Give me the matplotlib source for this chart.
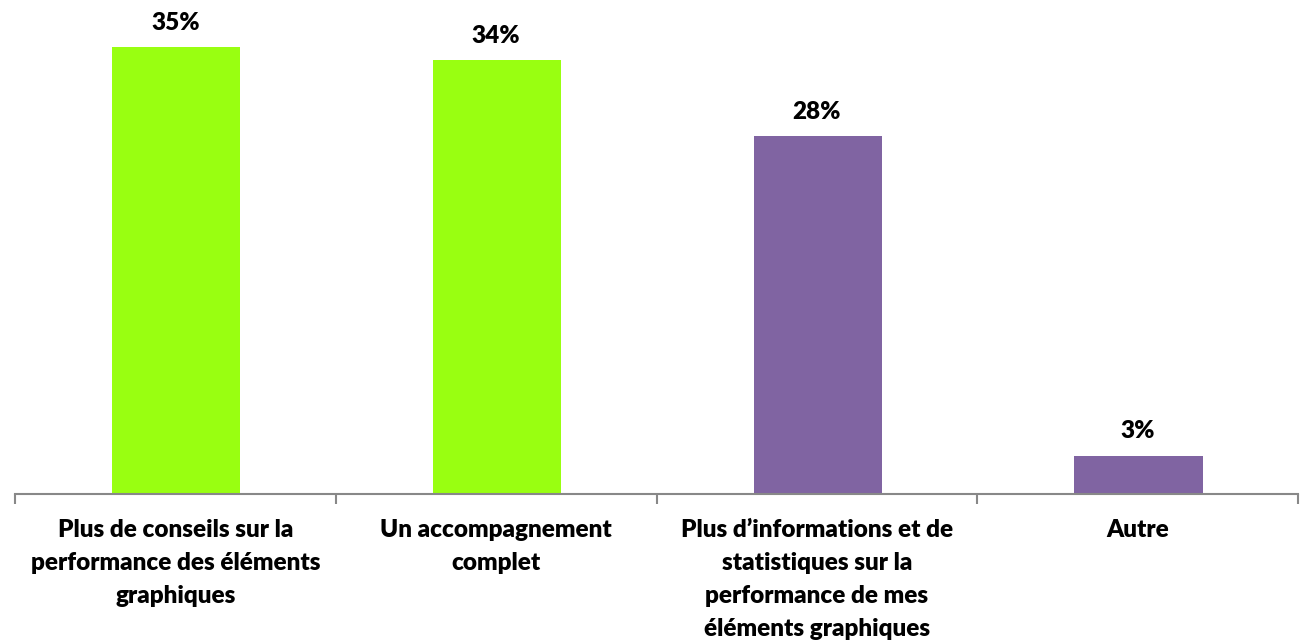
import matplotlib.pyplot as plt

categories = [
    "Plus de conseils sur la\nperformance des éléments\ngraphiques",
    "Un accompagnement\ncomplet",
    "Plus d\u2019informations et de\nstatistiques sur la\nperformance de mes\néléments graphiques",
    "Autre",
]
values = [35, 34, 28, 3]
bar_colors = ["#99FF11", "#99FF11", "#8064A2", "#8064A2"]

W, H = 1305, 640
fig = plt.figure(figsize=(W / 100, H / 100), dpi=100)

# axes: baseline at y=494px, 35% at y=47px
base, top35 = 494, 47
ymax = 38
top_px = base - (base - top35) * ymax / 35
ax = fig.add_axes([15 / W, 1 - base / H, (1298 - 15) / W, (base - top_px) / H])

x = range(len(values))
ax.bar([xi + 0.003 for xi in x], values, width=0.40, color=bar_colors)
ax.set_xlim(-0.5, len(values) - 0.5)
ax.set_ylim(0, ymax)

font = dict(family=["Lato", "DejaVu Sans"], fontweight="heavy", fontsize=17.5)
for xi, v in zip(x, values):
    ax.annotate(f"{v}%", (xi, v), xytext=(0, 9.5), textcoords="offset points",
                ha="center", va="bottom", **font)

for s in ["top", "right", "left"]:
    ax.spines[s].set_visible(False)
ax.spines["bottom"].set_color("#888888")
ax.spines["bottom"].set_linewidth(1.5)
ax.set_yticks([])

# ticks between categories
ax.set_xticks([-0.5, 0.5, 1.5, 2.5, 3.5])
ax.set_xticklabels([])
ax.tick_params(axis="x", length=7, width=1.5, color="#888888")
for xi, lab in zip(x, categories):
    ax.text(xi, -0.051, lab, transform=ax.get_xaxis_transform(), ha="center", va="top",
            linespacing=1.62, **font)

fig.savefig("out.png", dpi=100)
